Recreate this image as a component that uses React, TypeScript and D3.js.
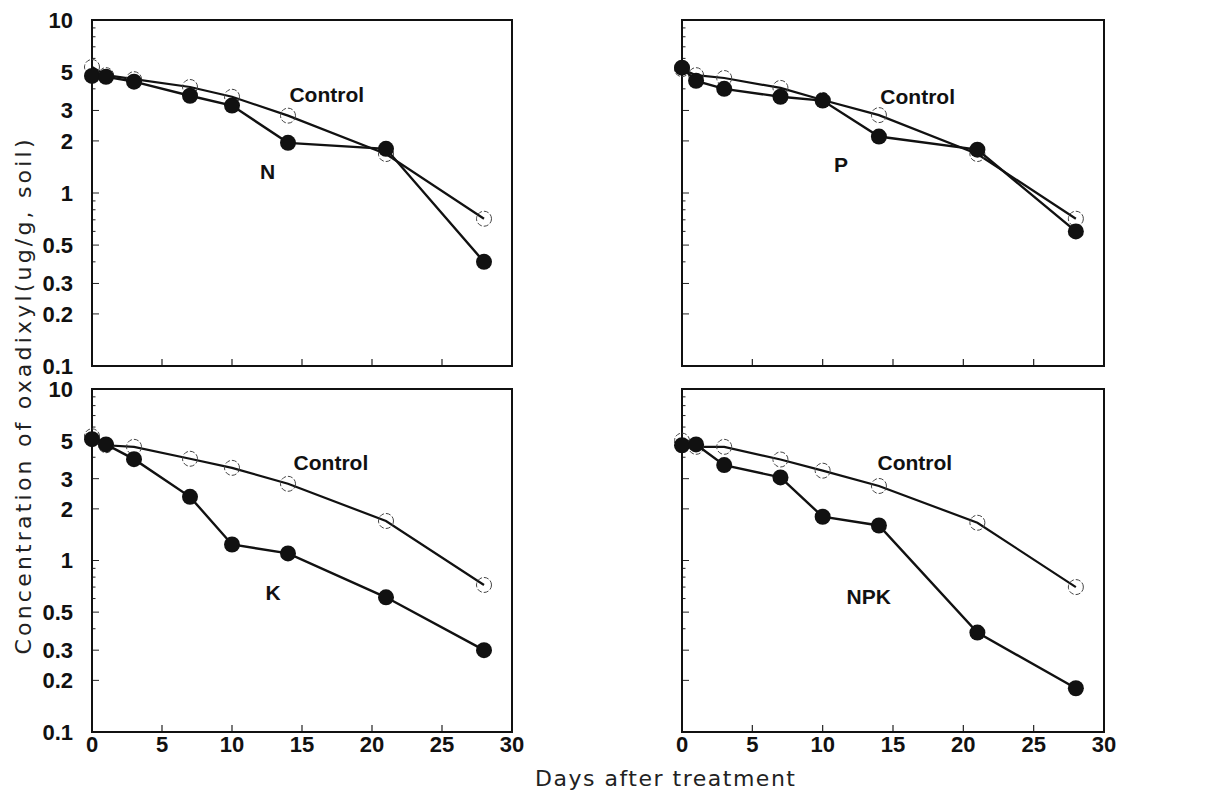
import * as React from "react";
import * as d3 from "d3";

// sampling days shared by every series
const days = [0, 1, 3, 7, 10, 14, 21, 28];

// concentration of oxadixyl (ug/g soil)
const controlN = [5.35, 4.8, 4.55, 4.1, 3.6, 2.8, 1.68, 0.71];
const treatN = [4.75, 4.7, 4.4, 3.65, 3.2, 1.95, 1.8, 0.4];
const controlP = [5.2, 4.8, 4.62, 4.05, 3.45, 2.82, 1.68, 0.71];
const treatP = [5.3, 4.45, 4.0, 3.6, 3.42, 2.12, 1.78, 0.6];
const controlK = [5.3, 4.7, 4.6, 3.92, 3.47, 2.8, 1.7, 0.72];
const treatK = [5.1, 4.75, 3.9, 2.35, 1.24, 1.1, 0.61, 0.3];
const controlNPK = [5.0, 4.6, 4.6, 3.88, 3.34, 2.72, 1.66, 0.7];
const treatNPK = [4.7, 4.75, 3.6, 3.05, 1.8, 1.6, 0.38, 0.18];

const xTicks = [0, 5, 10, 15, 20, 25, 30];
const yTickLabels = [10, 5, 3, 2, 1, 0.5, 0.3, 0.2, 0.1];

const treatNames = ["N", "P", "K", "NPK"];
// label anchors in data units: [day, value]
const controlLabelAt = [
  [14.1, 3.36],
  [14.1, 3.27],
  [14.4, 3.38],
  [13.9, 3.36],
];
const treatLabelAt = [
  [12.0, 1.2],
  [10.8, 1.32],
  [12.4, 0.585],
  [11.7, 0.56],
];

const cols = [
  { x0: 92, x1: 512 },
  { x0: 682, x1: 1104 },
];
const rows = [
  { y0: 20, y1: 366 },
  { y0: 389, y1: 732 },
];

const panels = [
  { control: controlN, treat: treatN, col: 0, row: 0 },
  { control: controlP, treat: treatP, col: 1, row: 0 },
  { control: controlK, treat: treatK, col: 0, row: 1 },
  { control: controlNPK, treat: treatNPK, col: 1, row: 1 },
].map((p, i) => ({
  ...p,
  name: treatNames[i],
  ctrlAt: controlLabelAt[i],
  treatAt: treatLabelAt[i],
}));

const labelFont = "'Liberation Sans', Arial, sans-serif";

// minor log ticks 0.1..10
const logTicks: number[] = [];
[0.1, 1].forEach((base) => {
  for (let k = 1; k <= 9; k++) logTicks.push(+(base * k).toFixed(2));
});
logTicks.push(10);

function Panel({ p }: { p: any }) {
  const c = cols[p.col];
  const r = rows[p.row];
  const x = d3.scaleLinear().domain([0, 30]).range([c.x0, c.x1]);
  const y = d3.scaleLog().domain([0.1, 10]).range([r.y1, r.y0]);

  const line = d3
    .line<number>()
    .x((_, i) => x(days[i]))
    .y((v) => y(v));

  const showYLabels = p.col === 0;
  const showXLabels = p.row === 1;

  return (
    <g>
      {/* y ticks */}
      {logTicks.map((t) => {
        const major = yTickLabels.includes(t);
        return (
          <line
            key={"yt" + t}
            x1={c.x0}
            x2={c.x0 + (major ? 7 : 3.5)}
            y1={y(t)}
            y2={y(t)}
            stroke="#222"
            strokeWidth={1}
          />
        );
      })}
      {/* x ticks */}
      {xTicks.slice(1, -1).map((t) => (
        <line
          key={"xt" + t}
          x1={x(t)}
          x2={x(t)}
          y1={r.y1}
          y2={r.y1 - 7}
          stroke="#222"
          strokeWidth={1.2}
        />
      ))}
      <rect
        x={c.x0}
        y={r.y0}
        width={c.x1 - c.x0}
        height={r.y1 - r.y0}
        fill="none"
        stroke="#111"
        strokeWidth={2}
      />
      {showYLabels &&
        yTickLabels.map((t) => (
          <text
            key={"yl" + t}
            x={c.x0 - 19}
            y={y(t)}
            dy="0.36em"
            textAnchor="end"
            fontFamily={labelFont}
            fontWeight="bold"
            fontSize={22}
            fill="#111"
          >
            {t}
          </text>
        ))}
      {showXLabels &&
        xTicks.map((t) => (
          <text
            key={"xl" + t}
            x={x(t)}
            y={r.y1 + 20}
            textAnchor="middle"
            fontFamily={labelFont}
            fontWeight="bold"
            fontSize={22}
            fill="#111"
          >
            {t}
          </text>
        ))}

      {/* control series */}
      <path d={line(p.control) || ""} fill="none" stroke="#111" strokeWidth={2.2} />
      {p.control.map((v: number, i: number) => (
        <circle
          key={"c" + i}
          cx={x(days[i])}
          cy={y(v)}
          r={7.5}
          fill="none"
          stroke="#444"
          strokeWidth={1}
          strokeDasharray="5 2"
        />
      ))}

      {/* treatment series */}
      <path d={line(p.treat) || ""} fill="none" stroke="#111" strokeWidth={2.4} />
      {p.treat.map((v: number, i: number) => (
        <circle key={"t" + i} cx={x(days[i])} cy={y(v)} r={8} fill="#111" />
      ))}

      <text
        x={x(p.ctrlAt[0])}
        y={y(p.ctrlAt[1])}
        fontFamily={labelFont}
        fontWeight="bold"
        fontSize={21}
        fill="#111"
      >
        Control
      </text>
      <text
        x={x(p.treatAt[0])}
        y={y(p.treatAt[1])}
        fontFamily={labelFont}
        fontWeight="bold"
        fontSize={21}
        fill="#111"
      >
        {p.name}
      </text>
    </g>
  );
}

export default function App() {
  return (
    <svg
      width={1217}
      height={798}
      style={{ position: "absolute", left: 0, top: 0, background: "#fff" }}
    >
      <rect width={1217} height={798} fill="#fff" />
      {panels.map((p) => (
        <Panel key={p.name} p={p} />
      ))}
      <text
        transform="translate(25,397) rotate(-90)"
        textAnchor="middle"
        dominantBaseline="middle"
        fontFamily="'DejaVu Sans', sans-serif"
        fontSize={22}
        textLength={515}
        lengthAdjust="spacing"
        fill="#222"
      >
        Concentration of oxadixyl(ug/g, soil)
      </text>
      <text
        x={535}
        y={786}
        fontFamily="'DejaVu Sans', sans-serif"
        fontSize={22}
        textLength={260}
        lengthAdjust="spacing"
        fill="#222"
      >
        Days after treatment
      </text>
    </svg>
  );
}
